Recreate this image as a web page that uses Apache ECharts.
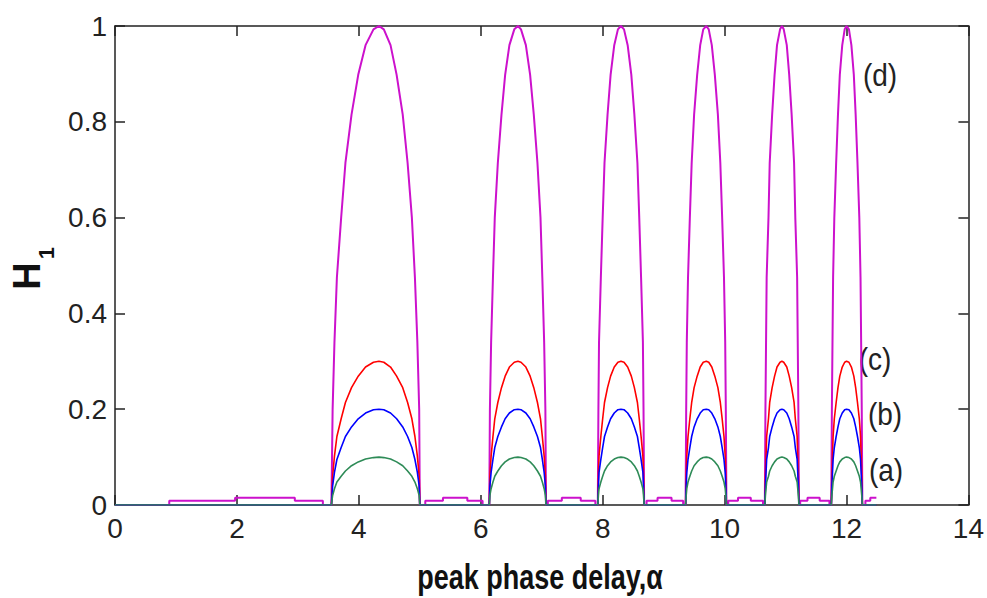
<!DOCTYPE html>
<html>
<head>
<meta charset="utf-8">
<title>H1 vs peak phase delay</title>
<script src="https://cdn.jsdelivr.net/npm/echarts@6/dist/echarts.min.js"></script>
<style>
  html, body { margin: 0; padding: 0; background: #fff; }
  #chart { width: 987px; height: 598px; }
</style>
</head>
<body>
<div id="chart"></div>
<script>
  // x values (peak phase delay), shared by all four curves
  var alpha = [
    0, 0.89, 0.89, 1.97, 1.97, 2.95, 2.95, 3.41, 3.41,
    3.55, 3.57, 3.60, 3.64, 3.71, 3.78, 3.88, 3.99, 4.11, 4.24, 4.33, 4.41, 4.52, 4.62, 4.72, 4.80, 4.87, 4.92, 4.96, 4.99, 5.00,
    5.09, 5.09, 5.38, 5.38, 5.78, 5.78, 6.03, 6.03,
    6.14, 6.15, 6.17, 6.20, 6.23, 6.28, 6.34, 6.40, 6.47, 6.55, 6.61, 6.66, 6.74, 6.81, 6.87, 6.93, 6.98, 7.01, 7.04, 7.06, 7.07,
    7.10, 7.10, 7.33, 7.33, 7.64, 7.64, 7.88, 7.88,
    7.92, 7.93, 7.94, 7.97, 8.00, 8.03, 8.08, 8.13, 8.19, 8.25, 8.30, 8.35, 8.41, 8.47, 8.52, 8.57, 8.60, 8.63, 8.66, 8.67, 8.68,
    8.72, 8.72, 8.90, 8.90, 9.13, 9.13, 9.32, 9.32,
    9.36, 9.37, 9.38, 9.40, 9.43, 9.46, 9.50, 9.55, 9.60, 9.65, 9.70, 9.74, 9.79, 9.84, 9.89, 9.93, 9.96, 9.99, 10.01, 10.02, 10.03,
    10.06, 10.06, 10.22, 10.22, 10.43, 10.43, 10.63, 10.63,
    10.66, 10.67, 10.68, 10.69, 10.72, 10.74, 10.78, 10.82, 10.86, 10.91, 10.94, 10.97, 11.02, 11.06, 11.10, 11.14, 11.16, 11.19, 11.20, 11.21, 11.22,
    11.24, 11.24, 11.36, 11.36, 11.56, 11.56, 11.72, 11.72,
    11.75, 11.76, 11.77, 11.78, 11.80, 11.83, 11.86, 11.89, 11.93, 11.97, 12.00, 12.04, 12.08, 12.12, 12.15, 12.18, 12.21, 12.23, 12.24, 12.25, 12.26,
    12.31, 12.31, 12.39, 12.39, 12.49
  ];

  // (d)
  var curveD = [
    0, 0, 0.009, 0.009, 0.015, 0.015, 0.009, 0.009, 0,
    0, 0.20, 0.34, 0.475, 0.60, 0.714, 0.815, 0.898, 0.96, 0.993, 1, 0.993, 0.96, 0.898, 0.815, 0.714, 0.60, 0.475, 0.34, 0.20, 0,
    0, 0.009, 0.009, 0.015, 0.015, 0.009, 0.009, 0,
    0, 0.20, 0.34, 0.475, 0.60, 0.714, 0.815, 0.898, 0.96, 0.993, 1, 0.993, 0.96, 0.898, 0.815, 0.714, 0.60, 0.475, 0.34, 0.20, 0,
    0, 0.009, 0.009, 0.015, 0.015, 0.009, 0.009, 0,
    0, 0.20, 0.34, 0.475, 0.60, 0.714, 0.815, 0.898, 0.96, 0.993, 1, 0.993, 0.96, 0.898, 0.815, 0.714, 0.60, 0.475, 0.34, 0.20, 0,
    0, 0.009, 0.009, 0.015, 0.015, 0.009, 0.009, 0,
    0, 0.20, 0.34, 0.475, 0.60, 0.714, 0.815, 0.898, 0.96, 0.993, 1, 0.993, 0.96, 0.898, 0.815, 0.714, 0.60, 0.475, 0.34, 0.20, 0,
    0, 0.009, 0.009, 0.015, 0.015, 0.009, 0.009, 0,
    0, 0.20, 0.34, 0.475, 0.60, 0.714, 0.815, 0.898, 0.96, 0.993, 1, 0.993, 0.96, 0.898, 0.815, 0.714, 0.60, 0.475, 0.34, 0.20, 0,
    0, 0.009, 0.009, 0.015, 0.015, 0.009, 0.009, 0,
    0, 0.20, 0.34, 0.475, 0.60, 0.714, 0.815, 0.898, 0.96, 0.993, 1, 0.993, 0.96, 0.898, 0.815, 0.714, 0.60, 0.475, 0.34, 0.20, 0,
    0, 0.009, 0.009, 0.015, 0.015
  ];

  // (c)
  var curveC = [
    0, 0, 0, 0, 0, 0, 0, 0, 0,
    0, 0.06, 0.102, 0.143, 0.18, 0.214, 0.245, 0.269, 0.288, 0.298, 0.30, 0.298, 0.288, 0.269, 0.245, 0.214, 0.18, 0.143, 0.102, 0.06, 0,
    0, 0, 0, 0, 0, 0, 0, 0,
    0, 0.06, 0.102, 0.143, 0.18, 0.214, 0.245, 0.269, 0.288, 0.298, 0.30, 0.298, 0.288, 0.269, 0.245, 0.214, 0.18, 0.143, 0.102, 0.06, 0,
    0, 0, 0, 0, 0, 0, 0, 0,
    0, 0.06, 0.102, 0.143, 0.18, 0.214, 0.245, 0.269, 0.288, 0.298, 0.30, 0.298, 0.288, 0.269, 0.245, 0.214, 0.18, 0.143, 0.102, 0.06, 0,
    0, 0, 0, 0, 0, 0, 0, 0,
    0, 0.06, 0.102, 0.143, 0.18, 0.214, 0.245, 0.269, 0.288, 0.298, 0.30, 0.298, 0.288, 0.269, 0.245, 0.214, 0.18, 0.143, 0.102, 0.06, 0,
    0, 0, 0, 0, 0, 0, 0, 0,
    0, 0.06, 0.102, 0.143, 0.18, 0.214, 0.245, 0.269, 0.288, 0.298, 0.30, 0.298, 0.288, 0.269, 0.245, 0.214, 0.18, 0.143, 0.102, 0.06, 0,
    0, 0, 0, 0, 0, 0, 0, 0,
    0, 0.06, 0.102, 0.143, 0.18, 0.214, 0.245, 0.269, 0.288, 0.298, 0.30, 0.298, 0.288, 0.269, 0.245, 0.214, 0.18, 0.143, 0.102, 0.06, 0,
    0, 0, 0, 0, 0
  ];

  // (b)
  var curveB = [
    0, 0, 0, 0, 0, 0, 0, 0, 0,
    0, 0.04, 0.068, 0.095, 0.12, 0.143, 0.163, 0.18, 0.192, 0.199, 0.20, 0.199, 0.192, 0.18, 0.163, 0.143, 0.12, 0.095, 0.068, 0.04, 0,
    0, 0, 0, 0, 0, 0, 0, 0,
    0, 0.04, 0.068, 0.095, 0.12, 0.143, 0.163, 0.18, 0.192, 0.199, 0.20, 0.199, 0.192, 0.18, 0.163, 0.143, 0.12, 0.095, 0.068, 0.04, 0,
    0, 0, 0, 0, 0, 0, 0, 0,
    0, 0.04, 0.068, 0.095, 0.12, 0.143, 0.163, 0.18, 0.192, 0.199, 0.20, 0.199, 0.192, 0.18, 0.163, 0.143, 0.12, 0.095, 0.068, 0.04, 0,
    0, 0, 0, 0, 0, 0, 0, 0,
    0, 0.04, 0.068, 0.095, 0.12, 0.143, 0.163, 0.18, 0.192, 0.199, 0.20, 0.199, 0.192, 0.18, 0.163, 0.143, 0.12, 0.095, 0.068, 0.04, 0,
    0, 0, 0, 0, 0, 0, 0, 0,
    0, 0.04, 0.068, 0.095, 0.12, 0.143, 0.163, 0.18, 0.192, 0.199, 0.20, 0.199, 0.192, 0.18, 0.163, 0.143, 0.12, 0.095, 0.068, 0.04, 0,
    0, 0, 0, 0, 0, 0, 0, 0,
    0, 0.04, 0.068, 0.095, 0.12, 0.143, 0.163, 0.18, 0.192, 0.199, 0.20, 0.199, 0.192, 0.18, 0.163, 0.143, 0.12, 0.095, 0.068, 0.04, 0,
    0, 0, 0, 0, 0
  ];

  // (a)
  var curveA = [
    0, 0, 0, 0, 0, 0, 0, 0, 0,
    0, 0.02, 0.034, 0.048, 0.06, 0.071, 0.082, 0.09, 0.096, 0.099, 0.10, 0.099, 0.096, 0.09, 0.082, 0.071, 0.06, 0.048, 0.034, 0.02, 0,
    0, 0, 0, 0, 0, 0, 0, 0,
    0, 0.02, 0.034, 0.048, 0.06, 0.071, 0.082, 0.09, 0.096, 0.099, 0.10, 0.099, 0.096, 0.09, 0.082, 0.071, 0.06, 0.048, 0.034, 0.02, 0,
    0, 0, 0, 0, 0, 0, 0, 0,
    0, 0.02, 0.034, 0.048, 0.06, 0.071, 0.082, 0.09, 0.096, 0.099, 0.10, 0.099, 0.096, 0.09, 0.082, 0.071, 0.06, 0.048, 0.034, 0.02, 0,
    0, 0, 0, 0, 0, 0, 0, 0,
    0, 0.02, 0.034, 0.048, 0.06, 0.071, 0.082, 0.09, 0.096, 0.099, 0.10, 0.099, 0.096, 0.09, 0.082, 0.071, 0.06, 0.048, 0.034, 0.02, 0,
    0, 0, 0, 0, 0, 0, 0, 0,
    0, 0.02, 0.034, 0.048, 0.06, 0.071, 0.082, 0.09, 0.096, 0.099, 0.10, 0.099, 0.096, 0.09, 0.082, 0.071, 0.06, 0.048, 0.034, 0.02, 0,
    0, 0, 0, 0, 0, 0, 0, 0,
    0, 0.02, 0.034, 0.048, 0.06, 0.071, 0.082, 0.09, 0.096, 0.099, 0.10, 0.099, 0.096, 0.09, 0.082, 0.071, 0.06, 0.048, 0.034, 0.02, 0,
    0, 0, 0, 0, 0
  ];

  var curveNames = ['(d)', '(c)', '(b)', '(a)'];
  var curveColors = ['#cc11cc', '#ff0000', '#0000ff', '#2e8b57'];
  var curveWidths = [2, 1.6, 1.6, 1.6];

  function pairs(ys) {
    var out = [];
    for (var i = 0; i < alpha.length; i++) {
      out.push([alpha[i], ys[i]]);
    }
    return out;
  }

  var axisColor = '#222';
  var font = 'Liberation Sans, Arial, sans-serif';

  function xAxisOf(pos, labels) {
    return {
      type: 'value', position: pos, min: 0, max: 14, interval: 2,
      axisLine: { show: true, onZero: false, lineStyle: { color: axisColor, width: 1.5 } },
      axisTick: { show: true, inside: true, length: 10, lineStyle: { color: axisColor, width: 1.5 } },
      axisLabel: { show: labels, fontSize: 28, color: '#222', margin: 9, fontFamily: font },
      splitLine: { show: false }
    };
  }
  function yAxisOf(pos, labels) {
    return {
      type: 'value', position: pos, min: 0, max: 1, interval: 0.2,
      axisLine: { show: true, onZero: false, lineStyle: { color: axisColor, width: 1.5 } },
      axisTick: { show: true, inside: true, length: 10, lineStyle: { color: axisColor, width: 1.5 } },
      axisLabel: { show: labels, fontSize: 28, color: '#222', margin: 8, fontFamily: font },
      splitLine: { show: false }
    };
  }

  var series = [curveD, curveC, curveB, curveA].map(function (ys, i) {
    return {
      name: curveNames[i],
      type: 'line',
      xAxisIndex: 0,
      yAxisIndex: 0,
      data: pairs(ys),
      showSymbol: false,
      symbol: 'none',
      lineStyle: { color: curveColors[i], width: curveWidths[i] },
      itemStyle: { color: curveColors[i] },
      z: 2 + i
    };
  });

  function label(text, x, y) {
    return {
      type: 'text', x: x, y: y, scaleY: 1.15,
      style: {
        text: text, font: '28px ' + font, fill: '#222',
        textAlign: 'center', textVerticalAlign: 'middle', align: 'center', verticalAlign: 'middle'
      }
    };
  }

  var option = {
    animation: false,
    backgroundColor: '#fff',
    grid: { left: 115, right: 16, top: 26, bottom: 93, containLabel: false },
    xAxis: [xAxisOf('bottom', true), xAxisOf('top', false)],
    yAxis: [yAxisOf('left', true), yAxisOf('right', false)],
    series: series,
    graphic: [
      label('(d)', 880, 75),
      label('(c)', 875, 359),
      label('(b)', 885, 414),
      label('(a)', 886, 470),
      {
        type: 'text', x: 540, y: 577, scaleY: 1.3,
        style: {
          text: 'peak phase delay,\u03b1', font: 'bold 27px ' + font, fill: '#111',
          textAlign: 'center', textVerticalAlign: 'middle', align: 'center', verticalAlign: 'middle'
        }
      },
      {
        type: 'text', x: 27, y: 276, rotation: Math.PI / 2,
        style: {
          text: 'H', font: 'bold 38px ' + font, fill: '#111',
          textAlign: 'center', textVerticalAlign: 'middle', align: 'center', verticalAlign: 'middle'
        }
      },
      {
        type: 'text', x: 46, y: 253, rotation: Math.PI / 2,
        style: {
          text: '1', font: 'bold 22px ' + font, fill: '#111',
          textAlign: 'center', textVerticalAlign: 'middle', align: 'center', verticalAlign: 'middle'
        }
      }
    ]
  };

  var chart = echarts.init(document.getElementById('chart'), null, { renderer: 'svg' });
  chart.setOption(option);
</script>
</body>
</html>
